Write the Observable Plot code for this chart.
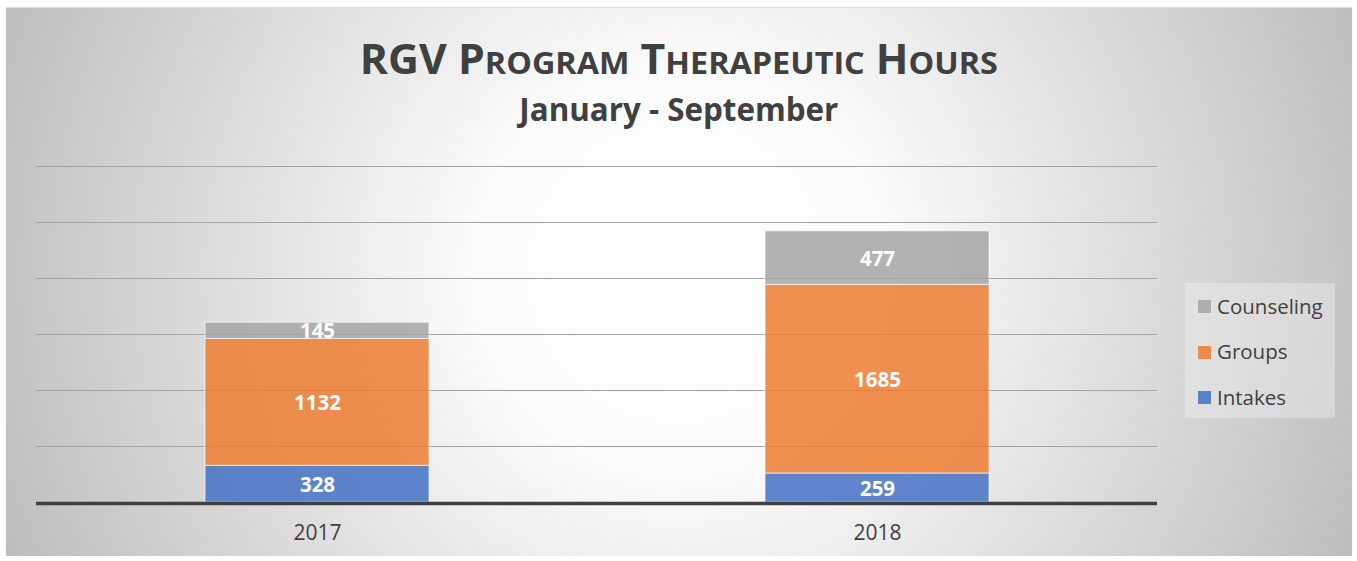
<!DOCTYPE html>
<html>
<head>
<meta charset="utf-8">
<script src="https://cdn.jsdelivr.net/npm/d3@7"></script>
<script src="https://cdn.jsdelivr.net/npm/@observablehq/plot@0.6"></script>
<style>
  html, body { margin: 0; padding: 0; background: #ffffff; width: 1357px; height: 561px; overflow: hidden; }
  #bg {
    position: absolute; left: 6px; top: 8px; width: 1346px; height: 548px;
    background: radial-gradient(circle farthest-corner at 50% 48%, #ffffff 0%, #fbfbfb 28%, #bdbdbd 100%);
    box-shadow: 0 -1px 1px rgba(0,0,0,0.12);
  }
  #plot { position: absolute; left: 0; top: 0; }
  .ttl {
    position: absolute; left: 6px; width: 1346px; text-align: center;
    font-family: "Open Sans", sans-serif; font-weight: 700; color: #404040; line-height: 1; white-space: nowrap;
  }
  .ttl > span { display: inline-block; transform-origin: 50% 50%; }
  .sc { font-size: 31px; }
  #legend {
    position: absolute; left: 1185px; top: 283px; width: 150px; height: 135px;
    background: rgba(242,242,242,0.4);
  }
  .lg-item { position: absolute; left: 0; font-family: "Open Sans", sans-serif; font-size: 20.5px; color: #404040; line-height: 1; white-space: nowrap; }
  .lg-sw { position: absolute; width: 13px; height: 13px; opacity: 0.85; }
</style>
</head>
<body>
<div id="bg"></div>
<div id="plot"></div>
<div class="ttl" id="title" style="top:38px;font-size:41px;"><span data-w="638">RGV P<span class="sc">ROGRAM</span> T<span class="sc">HERAPEUTIC</span> H<span class="sc">OURS</span></span></div>
<div class="ttl" id="subtitle" style="top:93px;font-size:32px;"><span data-w="319">January - September</span></div>
<div id="legend"></div>
<script>
// ---- data ----
const years = ["2017", "2018"];
const series = ["Intakes", "Groups", "Counseling"];
const intakes = [328, 259];
const groups = [1132, 1685];
const counseling = [145, 477];
const gridTicks = [500, 1000, 1500, 2000, 2500, 3000];
const seriesColors = ["#4472C4", "#ED7D31", "#A5A5A5"];
const legendOrder = ["Counseling", "Groups", "Intakes"];

const valuesBySeries = {Intakes: intakes, Groups: groups, Counseling: counseling};
const data = [];
years.forEach((yr, i) => {
  series.forEach(s => data.push({year: yr, series: s, value: valuesBySeries[s][i]}));
});

const chart = Plot.plot({
  width: 1357,
  height: 561,
  marginLeft: 36,
  marginRight: 200,
  marginTop: 166,
  marginBottom: 59,
  style: {background: "transparent", fontFamily: "Open Sans, sans-serif", color: "#404040", overflow: "visible"},
  x: {domain: years, paddingInner: 0.6, paddingOuter: 0.3, label: null},
  y: {domain: [0, 3000], axis: null},
  color: {domain: series, range: seriesColors},
  marks: [
    Plot.ruleY(gridTicks, {stroke: "#a3a3a3", strokeWidth: 1}),
    Plot.barY(data, {x: "year", y: "value", fill: "series", order: series, fillOpacity: 0.85, stroke: "#ffffff", strokeOpacity: 0.65, strokeWidth: 1}),
    Plot.text(data, Plot.stackY({x: "year", y: "value", z: "series", order: series, text: d => String(d.value), fill: "#ffffff", fontSize: 20.5, fontWeight: "bold", dy: 1})),
    Plot.ruleY([0], {stroke: "#404040", strokeWidth: 3.5, dy: 1}),
    Plot.axisX({tickSize: 0, tickPadding: 23, fontSize: 21, label: null, fill: "#404040"})
  ]
});
document.getElementById("plot").appendChild(chart);

// legend
const legend = document.getElementById("legend");
const lgBaselines = [314, 359.5, 405];
legendOrder.forEach((name, i) => {
  const color = seriesColors[series.indexOf(name)];
  const sw = document.createElement("div");
  sw.className = "lg-sw";
  sw.style.left = (1198 - 1185) + "px";
  sw.style.top = (lgBaselines[i] - 14 - 283) + "px";
  sw.style.background = color;
  legend.appendChild(sw);
  const t = document.createElement("div");
  t.className = "lg-item";
  t.style.left = (1217 - 1185) + "px";
  t.style.top = (lgBaselines[i] - 0.888 * 20.5 - 283) + "px";
  t.textContent = name;
  legend.appendChild(t);
});

// fit title widths to reference
document.querySelectorAll(".ttl > span").forEach(s => {
  const target = +s.dataset.w;
  const w = s.getBoundingClientRect().width;
  if (w > 0) s.style.transform = `scaleX(${target / w})`;
});
</script>
</body>
</html>
